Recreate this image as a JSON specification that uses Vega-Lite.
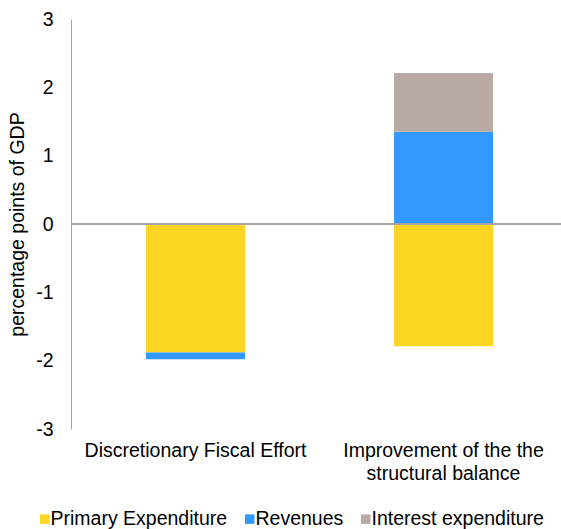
{
  "$schema": "https://vega.github.io/schema/vega-lite/v6.json",
  "width": 490,
  "height": 410,
  "autosize": {"type": "none"},
  "padding": {"left": 71, "top": 19, "right": 0, "bottom": 100},
  "background": "white",
  "config": {
    "view": {"stroke": null},
    "font": "Liberation Sans",
    "axis": {"labelFont": "Liberation Sans", "titleFont": "Liberation Sans"},
    "legend": {"labelFont": "Liberation Sans"}
  },
  "data": {
    "values": [
      {"measure": "Discretionary Fiscal Effort", "component": "Primary Expenditure", "value": -1.88, "rank": 1},
      {"measure": "Discretionary Fiscal Effort", "component": "Revenues", "value": -0.10, "rank": 2},
      {"measure": "Improvement of the the structural balance", "component": "Primary Expenditure", "value": -1.79, "rank": 1},
      {"measure": "Improvement of the the structural balance", "component": "Revenues", "value": 1.35, "rank": 2},
      {"measure": "Improvement of the the structural balance", "component": "Interest expenditure", "value": 0.86, "rank": 3}
    ]
  },
  "layer": [
    {
      "mark": {"type": "bar"},
      "encoding": {
        "x": {
          "field": "measure",
          "type": "nominal",
          "sort": ["Discretionary Fiscal Effort", "Improvement of the the structural balance"],
          "scale": {"paddingInner": 0.6008, "paddingOuter": 0.2883, "align": 0.5245, "round": false},
          "axis": {
            "title": null,
            "domain": false,
            "ticks": false,
            "labelAngle": 0,
            "labelFontSize": 19.5,
            "labelColor": "#000000",
            "labelPadding": 12,
            "labelLineHeight": 23,
            "labelLimit": 0,
            "labelExpr": "datum.value == 'Improvement of the the structural balance' ? ['Improvement of the the', 'structural balance'] : datum.value"
          }
        },
        "y": {
          "field": "value",
          "type": "quantitative",
          "stack": "zero",
          "scale": {"domain": [-3, 3], "nice": false},
          "axis": {
            "title": "percentage points of GDP",
            "values": [-3, -2, -1, 0, 1, 2, 3],
            "grid": false,
            "ticks": false,
            "domainColor": "#A6A6A6",
            "domainWidth": 1,
            "labelFontSize": 19.5,
            "labelColor": "#000000",
            "labelPadding": 18,
            "labelExpr": "'' + datum.value",
            "titleFontSize": 19.5,
            "titleFontWeight": "normal",
            "titleColor": "#000000",
            "titlePadding": 8
          }
        },
        "color": {
          "field": "component",
          "type": "nominal",
          "scale": {
            "domain": ["Primary Expenditure", "Revenues", "Interest expenditure"],
            "range": ["#FFD524", "#3399FF", "#B9AAA3"]
          },
          "legend": {
            "title": null,
            "orient": "none",
            "direction": "horizontal",
            "legendX": -36,
            "legendY": 490,
            "symbolType": "square",
            "symbolSize": 90,
            "symbolStrokeWidth": 0,
            "labelFontSize": 19.5,
            "labelColor": "#000000",
            "labelOffset": -4,
            "columnPadding": 12,
            "labelLimit": 0
          }
        },
        "order": {"field": "rank", "type": "quantitative"}
      }
    },
    {
      "mark": {"type": "rule", "color": "#A6A6A6", "strokeWidth": 2},
      "encoding": {"y": {"datum": 0}}
    }
  ]
}
